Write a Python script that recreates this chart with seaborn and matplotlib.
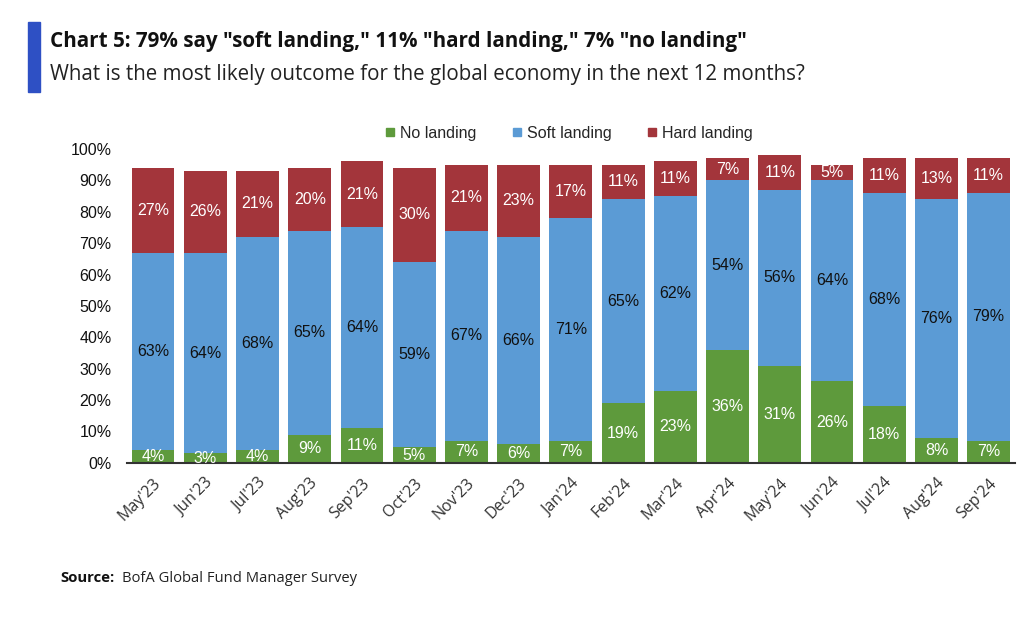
import numpy as np
import pandas as pd
import matplotlib
matplotlib.use("Agg")
import matplotlib.pyplot as plt
import seaborn as sns
from matplotlib.patches import Rectangle
from matplotlib.lines import Line2D

months = ["May'23", "Jun'23", "Jul'23", "Aug'23", "Sep'23", "Oct'23", "Nov'23", "Dec'23",
          "Jan'24", "Feb'24", "Mar'24", "Apr'24", "May'24", "Jun'24", "Jul'24", "Aug'24", "Sep'24"]
no_landing = [4, 3, 4, 9, 11, 5, 7, 6, 7, 19, 23, 36, 31, 26, 18, 8, 7]
soft_landing = [63, 64, 68, 65, 64, 59, 67, 66, 71, 65, 62, 54, 56, 64, 68, 76, 79]
hard_landing = [27, 26, 21, 20, 21, 30, 21, 23, 17, 11, 11, 7, 11, 5, 11, 13, 11]

green = "#5E9A3C"
blue = "#5B9BD5"
red = "#A3353B"

df = pd.DataFrame({"month": months, "no": no_landing, "soft": soft_landing, "hard": hard_landing})
df["no_soft"] = df["no"] + df["soft"]
df["total"] = df["no_soft"] + df["hard"]

sns.set_style("white")
plt.rcParams["font.family"] = ["Liberation Sans", "DejaVu Sans"]

fig = plt.figure(figsize=(10.24, 6.18), dpi=100)
ax = fig.add_axes([0.124, 0.251, 0.867, 0.508])

# layered bars give the stacked look
for col, c in [("total", red), ("no_soft", blue), ("no", green)]:
    sns.barplot(data=df, x="month", y=col, color=c, width=0.82, saturation=1,
                linewidth=0, edgecolor=c, ax=ax)

for i, row in df.iterrows():
    ax.text(i, row["no"] / 2, f"{row['no']}%", ha="center", va="center", color="white", fontsize=11.5)
    ax.text(i, row["no"] + row["soft"] / 2, f"{row['soft']}%", ha="center", va="center",
            color="#111111", fontsize=11.5)
    ax.text(i, row["no_soft"] + row["hard"] / 2, f"{row['hard']}%", ha="center", va="center",
            color="white", fontsize=11.5)

ax.set_xlim(-0.5, len(months) - 0.5)
ax.set_ylim(0, 100)
ax.set_yticks(range(0, 101, 10))
ax.set_yticklabels([f"{v}%" for v in range(0, 101, 10)], fontsize=11.5, color="#111111")
ax.set_xlabel("")
ax.set_ylabel("")
ax.tick_params(axis="both", length=0)
ax.tick_params(axis="y", pad=11)
ax.set_xticks(range(len(months)))
ax.set_xticklabels(months, rotation=45, ha="right", rotation_mode="anchor",
                   fontsize=11.5, color="#333333", family=["Open Sans", "DejaVu Sans"])
ax.tick_params(axis="x", pad=9)
sns.despine(ax=ax, left=True)
ax.spines["bottom"].set_color("#333333")
ax.spines["bottom"].set_linewidth(1.5)

handles = [Line2D([], [], marker="s", linestyle="none", markersize=6, color=c)
           for c in (green, blue, red)]
fig.legend(handles, ["No landing", "Soft landing", "Hard landing"], loc="center",
           bbox_to_anchor=(569 / 1024, 1 - 133 / 618), ncol=3, frameon=False, fontsize=11.5,
           handlelength=0.6, handletextpad=0.35, columnspacing=2.2)

# header
fig.patches.append(Rectangle((28 / 1024, 1 - 92 / 618), 12 / 1024, 70 / 618,
                             transform=fig.transFigure, color="#2E50C4"))
fig.text(50 / 1024, 1 - 47 / 618, "Chart 5: 79% say \"soft landing,\" 11% \"hard landing,\" 7% \"no landing\"",
         fontsize=14.9, fontweight="bold", color="#111111", family=["Open Sans", "DejaVu Sans"],
         va="baseline")
fig.text(50 / 1024, 1 - 80 / 618, "What is the most likely outcome for the global economy in the next 12 months?",
         fontsize=14.8, color="#222222", family=["Open Sans", "DejaVu Sans"], va="baseline")

fig.text(60 / 1024, 1 - 582 / 618, "Source:", fontsize=10.7, fontweight="bold", color="#111111",
         family=["Open Sans", "DejaVu Sans"], va="baseline")
fig.text(122 / 1024, 1 - 582 / 618, "BofA Global Fund Manager Survey", fontsize=10.6, color="#222222",
         family=["Open Sans", "DejaVu Sans"], va="baseline")

fig.savefig("out.png", dpi=100)
